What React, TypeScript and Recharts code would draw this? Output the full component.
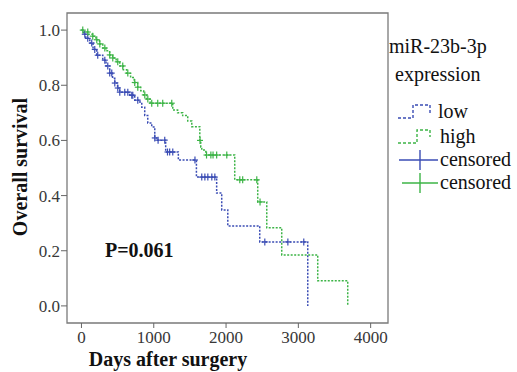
import React from 'react';
import { ComposedChart, Line, Scatter, XAxis, YAxis, ReferenceArea, Customized } from 'recharts';

// Kaplan-Meier step data (days, survival)
const highDays = [0, 40, 90, 156, 200, 250, 295, 340, 390, 433, 480, 530, 580, 627, 680, 730, 779, 820, 860, 903, 950, 1263, 1330, 1400, 1470, 1526, 1637, 1650, 1664, 1720, 2120, 2438, 2563, 2770, 3268, 3683];
const highSurv = [1.0, 0.993, 0.985, 0.978, 0.965, 0.95, 0.935, 0.925, 0.91, 0.899, 0.885, 0.87, 0.856, 0.844, 0.828, 0.81, 0.793, 0.78, 0.765, 0.75, 0.735, 0.71, 0.7, 0.69, 0.67, 0.65, 0.6, 0.576, 0.565, 0.547, 0.457, 0.377, 0.283, 0.185, 0.091, 0.0];

const lowDays = [0, 30, 60, 115, 160, 212, 295, 340, 391, 430, 461, 500, 530, 668, 737, 806, 834, 875, 917, 972, 1014, 1041, 1165, 1340, 1590, 1870, 1940, 2024, 2466, 3130];
const lowSurv = [1.0, 0.985, 0.97, 0.953, 0.93, 0.909, 0.891, 0.87, 0.844, 0.825, 0.808, 0.79, 0.775, 0.764, 0.746, 0.739, 0.72, 0.69, 0.663, 0.649, 0.609, 0.601, 0.558, 0.529, 0.467, 0.409, 0.348, 0.29, 0.232, 0.0];

// censoring times
const highCensorDays = [18, 87, 156, 212, 254, 323, 391, 433, 502, 571, 641, 737, 779, 876, 918, 972, 1055, 1124, 1249, 1640, 1730, 1790, 1820, 1870, 2010, 2190, 2230, 2425, 2470];
const lowCensorDays = [46, 87, 142, 184, 225, 323, 364, 391, 419, 461, 502, 530, 599, 641, 696, 710, 779, 1014, 1060, 1152, 1190, 1220, 1263, 1570, 1664, 1707, 1748, 1803, 1845, 2536, 2855, 3075];

const xTicks = [0, 1000, 2000, 3000, 4000];
const yTicks = [0, 0.2, 0.4, 0.6, 0.8, 1.0];

const BLUE = '#3a4cb4';
const GREEN = '#3cb446';
const FONT = '"Liberation Serif", "Times New Roman", serif';

function survAt(days: number[], surv: number[], t: number) {
  let s = surv[0];
  for (let i = 0; i < days.length; i++) {
    if (days[i] <= t) s = surv[i];
  }
  return s;
}

const highData = highDays.map((d, i) => ({ day: d, s: highSurv[i] }));
const lowData = lowDays.map((d, i) => ({ day: d, s: lowSurv[i] }));
const highCensor = highCensorDays.map((d) => ({ day: d, s: survAt(highDays, highSurv, d) }));
const lowCensor = lowCensorDays.map((d) => ({ day: d, s: survAt(lowDays, lowSurv, d) }));

const makeCross = (color: string) => (props: any) => {
  const { cx, cy } = props;
  return (
    <g stroke={color} strokeWidth={1.2}>
      <line x1={cx - 3} x2={cx + 3} y1={cy} y2={cy} />
      <line x1={cx} x2={cx} y1={cy - 3.5} y2={cy + 3.5} />
    </g>
  );
};

const T = { fontFamily: FONT };

const Annotations = () => (
  <g fill="#111">
    <text style={T} x={27} y={167} fontSize={20} fontWeight="bold" textAnchor="middle" transform="rotate(-90, 27, 167)">Overall survival</text>
    <text style={T} x={168} y={366} fontSize={20} fontWeight="bold" textAnchor="middle">Days after surgery</text>
    <text style={T} x={105} y={257} fontSize={20} fontWeight="bold">P=0.061</text>
    <text style={T} x={389} y={53} fontSize={20}>miR-23b-3p</text>
    <text style={T} x={395} y={81} fontSize={20}>expression</text>
    <path d="M398,118 H413 V105 H430 V113" fill="none" stroke={BLUE} strokeWidth={1.4} strokeDasharray="3 2" />
    <text style={T} x={438} y={118} fontSize={20}>low</text>
    <path d="M398,143 H417 V130 H430 V137" fill="none" stroke={GREEN} strokeWidth={1.4} strokeDasharray="3 2" />
    <text style={T} x={440} y={143} fontSize={20}>high</text>
    <line x1={399} x2={438} y1={160} y2={160} stroke={BLUE} strokeWidth={1.4} />
    <line x1={420} x2={420} y1={150} y2={170} stroke={BLUE} strokeWidth={1.4} />
    <text style={T} x={440} y={166} fontSize={20}>censored</text>
    <line x1={402} x2={438} y1={183} y2={183} stroke={GREEN} strokeWidth={1.4} />
    <line x1={420} x2={420} y1={173} y2={193} stroke={GREEN} strokeWidth={1.4} />
    <text style={T} x={440} y={189} fontSize={20}>censored</text>
  </g>
);

export default function App() {
  return (
    <div style={{ position: 'absolute', left: 0, top: 0, width: 517, height: 372, background: '#fff', fontFamily: FONT }}>
      <ComposedChart width={517} height={372} margin={{ top: 13, right: 129, bottom: 0, left: 0 }} style={{ fontFamily: FONT }}>
        <XAxis
          type="number"
          dataKey="day"
          domain={[-200, 4240]}
          ticks={xTicks}
          allowDataOverflow
          axisLine={false}
          tickSize={5}
          tickMargin={3}
          height={49}
          tickLine={{ stroke: '#666' }}
          tick={{ fontSize: 17, fill: '#383838', fontFamily: FONT, style: T }}
        />
        <YAxis
          type="number"
          domain={[-0.062, 1.062]}
          ticks={yTicks}
          allowDataOverflow
          axisLine={false}
          tickSize={6}
          tickMargin={1}
          width={67}
          tickFormatter={(v: number) => v.toFixed(1)}
          tickLine={{ stroke: '#666' }}
          tick={{ fontSize: 17, fill: '#383838', fontFamily: FONT, style: T }}
        />
        <ReferenceArea x1={-200} x2={4240} y1={-0.062} y2={1.062} fill="none" stroke="#7a7a7a" strokeWidth={1.3} />
        <Line data={lowData} dataKey="s" type="stepAfter" stroke={BLUE} strokeWidth={1.5} strokeDasharray="2 1.5" dot={false} isAnimationActive={false} />
        <Line data={highData} dataKey="s" type="stepAfter" stroke={GREEN} strokeWidth={1.5} strokeDasharray="2 1.5" dot={false} isAnimationActive={false} />
        <Scatter data={lowCensor} dataKey="s" shape={makeCross(BLUE)} isAnimationActive={false} />
        <Scatter data={highCensor} dataKey="s" shape={makeCross(GREEN)} isAnimationActive={false} />
        <Customized component={Annotations} />
      </ComposedChart>
    </div>
  );
}
